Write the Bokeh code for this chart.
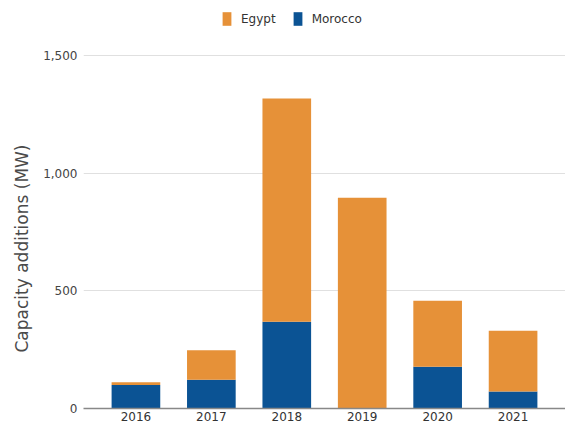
from bokeh.plotting import figure
from bokeh.models import FactorRange, Range1d, FixedTicker, NumeralTickFormatter, Legend, LegendItem, ColumnDataSource, Title
from bokeh.embed import file_html
from bokeh.resources import INLINE

years = ["2016", "2017", "2018", "2019", "2020", "2021"]
morocco = [100, 122, 369, 0, 177, 72]
egypt = [12, 126, 948, 896, 281, 258]
series = ["Egypt", "Morocco"]
colors = {"Egypt": "#e69138", "Morocco": "#0b5394"}
y_ticks = [0, 500, 1000, 1500]
y_title = "Capacity additions (MW)"

FONT = "DejaVu Sans"

source = ColumnDataSource(dict(years=years, Morocco=morocco, Egypt=egypt))

p = figure(width=565, height=436, output_backend="svg", toolbar_location=None,
           x_range=FactorRange(*years, range_padding=0.195, range_padding_units="absolute"),
           y_range=Range1d(0, 1734))
p.min_border_left = 82
p.min_border_right = 0
p.min_border_top = 0
p.min_border_bottom = 28
p.outline_line_color = None
p.background_fill_color = "white"
p.border_fill_color = "white"

r = p.vbar_stack(["Morocco", "Egypt"], x="years", width=0.645, source=source,
                 color=[colors["Morocco"], colors["Egypt"]], line_color=None)

p.xgrid.grid_line_color = None
p.ygrid.grid_line_color = "#e0e0e0"
p.ygrid.grid_line_width = 1

p.yaxis.ticker = FixedTicker(ticks=y_ticks)
p.yaxis.formatter = NumeralTickFormatter(format="0,0")
p.yaxis.axis_line_color = None
p.yaxis.major_tick_line_color = None
p.yaxis.minor_tick_line_color = None
p.yaxis.major_tick_out = 0
p.yaxis.major_tick_in = 0
p.yaxis.minor_tick_out = 0
p.yaxis.major_label_standoff = 6
p.yaxis.major_label_text_font = FONT
p.yaxis.major_label_text_font_size = "12px"
p.yaxis.major_label_text_color = "#444444"

ytitle = Title(text=y_title, align="left", offset=56, standoff=18,
               text_font=FONT, text_font_size="17px", text_font_style="normal",
               text_color="#4a4a4a")
p.add_layout(ytitle, "left")

p.xaxis.axis_line_color = "#888888"
p.xaxis.axis_line_width = 1.5
p.xaxis.major_tick_line_color = None
p.xaxis.minor_tick_line_color = None
p.xaxis.major_tick_out = 0
p.xaxis.major_tick_in = 0
p.xaxis.minor_tick_out = 0
p.xaxis.major_label_standoff = 3
p.xaxis.major_label_text_font = FONT
p.xaxis.major_label_text_font_size = "12px"
p.xaxis.major_label_text_color = "#333333"

legend = Legend(items=[LegendItem(label="Egypt", renderers=[r[1]]),
                       LegendItem(label="Morocco", renderers=[r[0]])],
                orientation="horizontal", location=(138, 381))
legend.background_fill_alpha = 0
legend.border_line_color = None
legend.label_text_font = FONT
legend.label_text_font_size = "12px"
legend.label_text_color = "#333333"
legend.glyph_width = 11
legend.glyph_height = 17
legend.spacing = 16
legend.padding = 0
legend.margin = 0
legend.label_standoff = 9
p.add_layout(legend, "center")

open("out.html", "w").write(file_html(p, INLINE))
